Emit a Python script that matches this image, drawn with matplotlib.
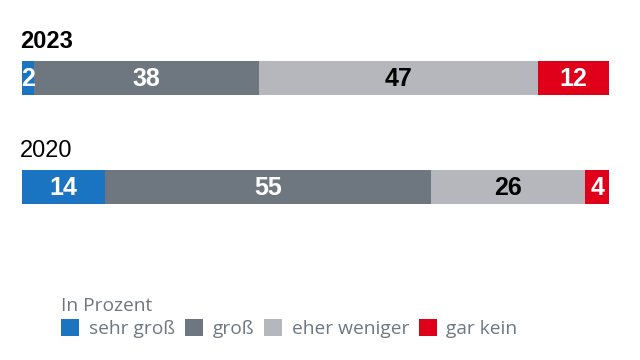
import matplotlib.pyplot as plt
from matplotlib.patches import Patch

years = ['2023', '2020']
categories = ['sehr groß', 'groß', 'eher weniger', 'gar kein']
values = {
    '2023': [2, 38, 47, 12],
    '2020': [14, 55, 26, 4],
}
colors = ['#1a74c1', '#6e7780', '#b5b7bc', '#e1001a']
text_colors = ['white', 'white', 'black', 'white']

fig = plt.figure(figsize=(6.4, 3.6), dpi=100)
# axes covers the full height; x spans the bar area
ax = fig.add_axes([22 / 640, 0, 587 / 640, 1])
ax.set_xlim(0, 99)
ax.set_ylim(360, 0)
ax.axis('off')

bar_y = {'2023': 78, '2020': 187}
title_y = {'2023': 42, '2020': 151}
bar_h = 34

for year in years:
    left = 0
    for val, col, tc in zip(values[year], colors, text_colors):
        ax.barh(bar_y[year], val, left=left, height=bar_h, color=col, linewidth=0)
        ax.text(left + val / 2, bar_y[year] + 1, str(val), ha='center', va='center',
                color=tc, fontsize=18, fontweight='bold', family='Liberation Sans')
        left += val
    ax.text(-0.3, title_y[year], year, ha='left', va='center', fontsize=17,
            fontweight='bold' if year == '2023' else 'normal',
            family='Liberation Sans', color='black')

handles = [Patch(facecolor=c, edgecolor='none') for c in colors]
leg = fig.legend(handles, categories, loc='upper left', bbox_to_anchor=(44 / 640, 1 - 280 / 360),
                 ncol=4, frameon=False, title='In Prozent', alignment='left',
                 prop={'family': 'Open Sans', 'size': 13.8},
                 title_fontproperties={'family': 'Open Sans', 'size': 13.8},
                 handlelength=0.95, handleheight=0.95, handletextpad=0.5, columnspacing=0.5,
                 labelspacing=0.2, borderpad=0.4)
for t in leg.get_texts():
    t.set_color('#6e7780')
leg.get_title().set_color('#6e7780')

fig.savefig('out.png', dpi=100)
